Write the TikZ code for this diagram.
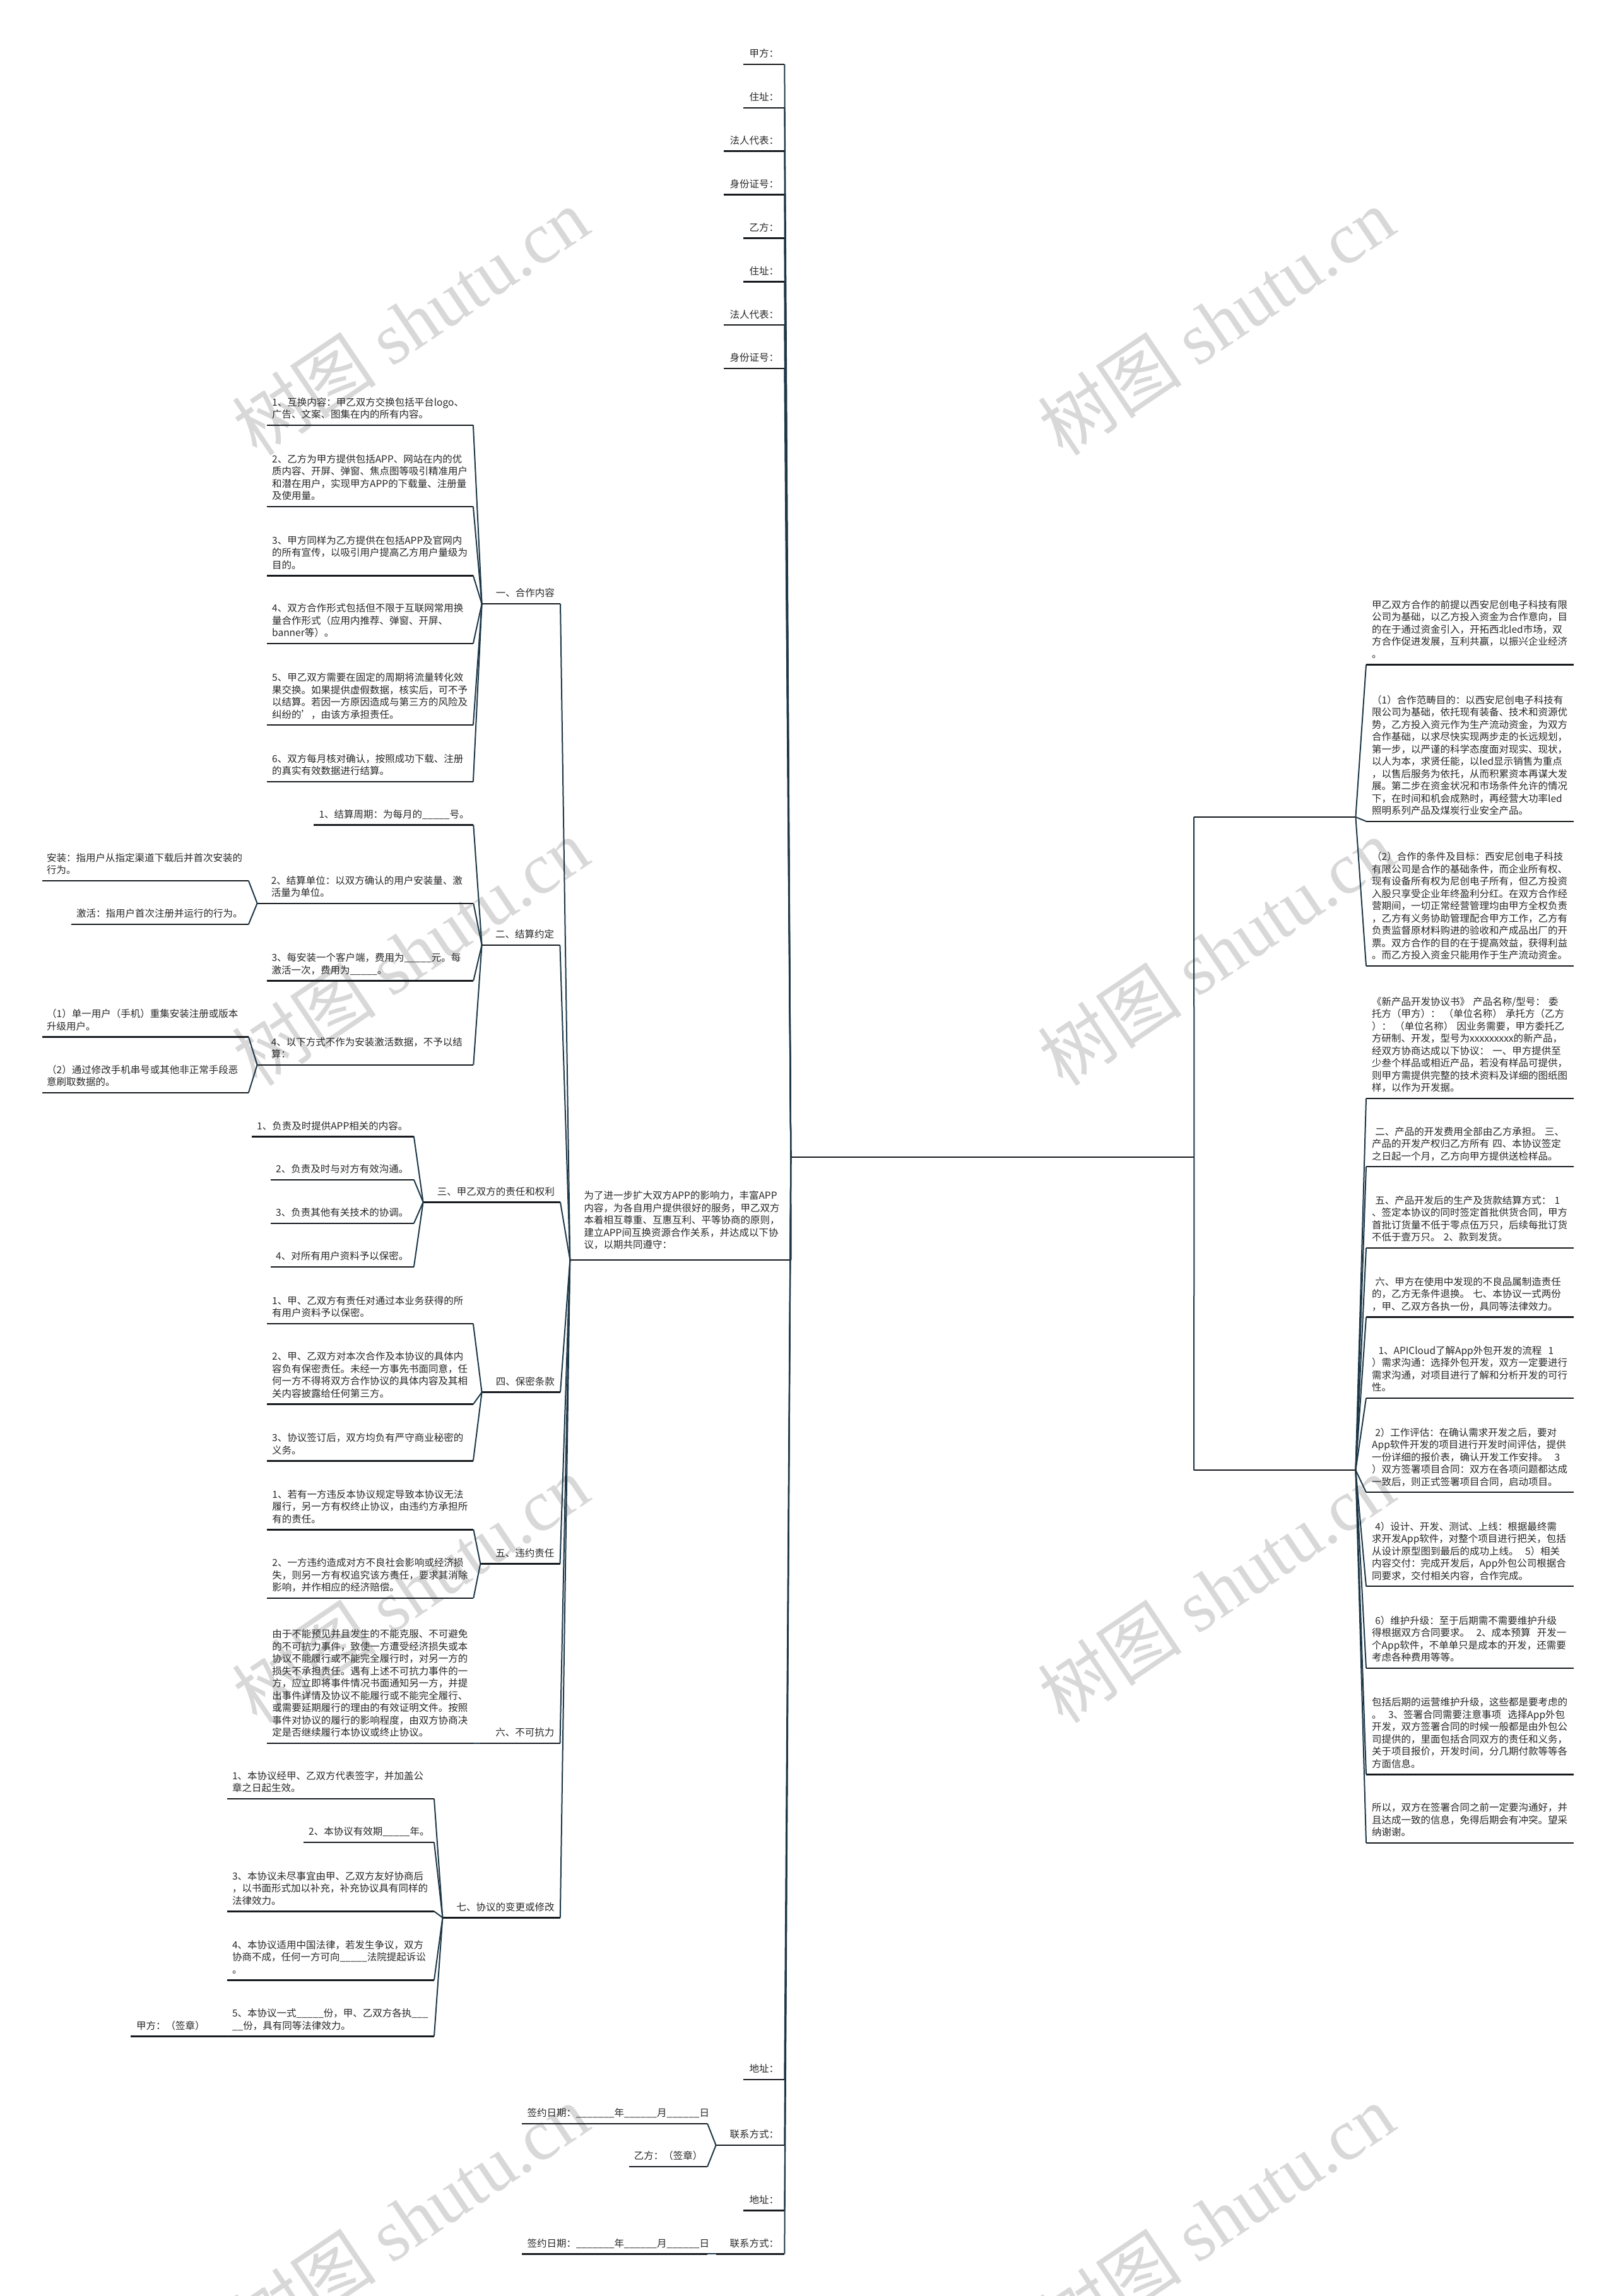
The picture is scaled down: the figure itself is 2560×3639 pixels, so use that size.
\documentclass[tikz,border=0pt]{standalone}
\usepackage{fontspec}
\setmainfont{Noto Sans CJK SC}
\newfontfamily\wmlatin{Liberation Serif}
\newcommand\fsz{\fontsize{15.5}{19.5}\selectfont}
\definecolor{lnc}{RGB}{30,56,72}
\definecolor{ulc}{RGB}{22,26,30}
\definecolor{txc}{RGB}{40,40,40}
\definecolor{wmc}{RGB}{216,216,216}
\tikzset{
 uline/.style={draw=ulc,line width=2.4pt},
 conn/.style={draw=lnc,line width=2pt},
 base/.style={font=\fsz,text=txc,anchor=south west,inner ysep=5.15pt,execute at end node={\strut},
   append after command={(\tikzlastnode.south west) edge[uline] (\tikzlastnode.south east)}},
 leaf/.style={base,align=left,inner xsep=8pt},
 lab/.style={base,align=right,inner xsep=9pt,anchor=south east},
 hub/.style={base,inner sep=0pt},
 wm/.style={font=\fontsize{115}{115}\selectfont,text=wmc,rotate=34,inner sep=0pt},
}
\begin{document}
\begin{tikzpicture}[x=1pt,y=-1pt]
\fill[white] (0,0) rectangle (2560,3639);
\useasboundingbox (0,0) rectangle (2560,3639);
% watermarks
\foreach \wx/\wy [count=\i] in {650/510,1927/510,650/1509,1927/1509,650/2519,1927/2519,650/3516,1927/3516}
  \node[wm] (wm\i) at (\wx,\wy) {树图 {\wmlatin shutu.cn}};
% root and right hubs
\node[hub,minimum width=638.7pt] (root) at (1253.3,1834) {};
\node[hub,minimum width=256pt] (h1) at (1892,1295) {};
\node[hub,minimum width=256pt] (h2) at (1892,2330) {};
% top labels
\node[lab] (t1) at (1243.3,102.0) {甲方：};
\node[lab] (t2) at (1243.3,170.9) {住址：};
\node[lab] (t3) at (1243.3,239.7) {法人代表：};
\node[lab] (t4) at (1243.3,308.6) {身份证号：};
\node[lab] (t5) at (1243.3,377.5) {乙方：};
\node[lab] (t6) at (1243.3,446.3) {住址：};
\node[lab] (t7) at (1243.3,515.2) {法人代表：};
\node[lab] (t8) at (1243.3,584.1) {身份证号：};
% bottom labels
\node[lab] (b1) at (1243.3,3296) {地址：};
\node[lab,text width=90.3pt] (b2) at (1243.3,3400) {联系方式：};
\node[lab] (b3) at (1243.3,3503.3) {地址：};
\node[lab,text width=90.3pt] (b4) at (1243.3,3572.3) {联系方式：};
\node[leaf,text width=277.4pt] (b2a) at (827.3,3365.7) {签约日期：\_\_\_\_\_\_\_年\_\_\_\_\_\_月\_\_\_\_\_\_日};
\node[leaf,text width=108pt] (b2b) at (996.7,3434) {乙方：（签章）};
\node[leaf,text width=277.4pt] (b4a) at (827.3,3572.3) {签约日期：\_\_\_\_\_\_\_年\_\_\_\_\_\_月\_\_\_\_\_\_日};
% central text
\node[leaf,inner xsep=22pt,inner ysep=12pt,text width=306pt] (wl) at (903.3,1996.7) {为了进一步扩大双方APP的影响力，丰富APP\\内容，为各自用户提供很好的服务，甲乙双方\\本着相互尊重、互惠互利、平等协商的原则，\\建立APP间互换资源合作关系，并达成以下协\\议，以期共同遵守：};
% sections
\node[lab,text width=106pt] (s1) at (888,957) {一、合作内容};
\node[lab,text width=105.4pt] (s2) at (887.4,1497.7) {二、结算约定};
\node[lab,text width=199pt] (s3) at (888,1905.3) {三、甲乙双方的责任和权利};
\node[lab,text width=106pt] (s4) at (888,2206.6) {四、保密条款};
\node[lab,text width=107.8pt] (s5) at (887.5,2478.3) {五、违约责任};
\node[lab,text width=107.8pt] (s6) at (887.5,2762.7) {六、不可抗力};
\node[lab,text width=168pt] (s7) at (887.8,3039.3) {七、协议的变更或修改};
% section 1
\node[leaf,text width=310.5pt] (s1a) at (423,673.7) {1、互换内容：甲乙双方交换包括平台logo、\\广告、文案、图集在内的所有内容。};
\node[leaf,text width=310.5pt] (s1b) at (423,802.9) {2、乙方为甲方提供包括APP、网站在内的优\\质内容、开屏、弹窗、焦点图等吸引精准用户\\和潜在用户，实现甲方APP的下载量、注册量\\及使用量。};
\node[leaf,text width=310.5pt] (s1c) at (423,912.3) {3、甲方同样为乙方提供在包括APP及官网内\\的所有宣传，以吸引用户提高乙方用户量级为\\目的。};
\node[leaf,text width=310.5pt] (s1d) at (423,1020) {4、双方合作形式包括但不限于互联网常用换\\量合作形式（应用内推荐、弹窗、开屏、\\banner等）。};
\node[leaf,text width=310.5pt] (s1e) at (423,1149.2) {5、甲乙双方需要在固定的周期将流量转化效\\果交换。如果提供虚假数据，核实后，可不予\\以结算。若因一方原因造成与第三方的风险及\\纠纷的'，由该方承担责任。};
\node[leaf,text width=310.5pt] (s1f) at (423,1238.9) {6、双方每月核对确认，按照成功下载、注册\\的真实有效数据进行结算。};
% section 2
\node[leaf,text width=236.5pt] (s2a) at (497.4,1307.3) {1、结算周期：为每月的\_\_\_\_\_号。};
\node[leaf,inner xsep=22pt,text width=298.3pt] (s2b) at (407.6,1431.7) {2、结算单位：以双方确认的用户安装量、激\\活量为单位。};
\node[leaf,inner xsep=7pt,text width=312.5pt] (s2b1) at (67,1396) {安装：指用户从指定渠道下载后并首次安装的\\行为。};
\node[leaf,text width=264.5pt] (s2b2) at (113,1465) {激活：指用户首次注册并运行的行为。};
\node[leaf,inner xsep=7pt,text width=312.6pt] (s2c) at (423.3,1554.3) {3、每安装一个客户端，费用为\_\_\_\_\_元。每\\激活一次，费用为\_\_\_\_\_。};
\node[leaf,inner xsep=22pt,text width=298.3pt] (s2d) at (407.6,1687.7) {4、以下方式不作为安装激活数据，不予以结\\算：};
\node[leaf,inner xsep=7pt,text width=312.5pt] (s2d1) at (67,1643.3) {（1）单一用户（手机）重集安装注册或版本\\升级用户。};
\node[leaf,inner xsep=7pt,text width=312.5pt] (s2d2) at (67,1731.7) {（2）通过修改手机串号或其他非正常手段恶\\意刷取数据的。};
% section 3
\node[leaf,text width=240.5pt] (s3a) at (399,1801.3) {1、负责及时提供APP相关的内容。};
\node[leaf,text width=210.5pt] (s3b) at (429,1869.7) {2、负责及时与对方有效沟通。};
\node[leaf,text width=210.5pt] (s3c) at (429,1938.9) {3、负责其他有关技术的协调。};
\node[leaf,text width=210.5pt] (s3d) at (429,2008) {4、对所有用户资料予以保密。};
% section 4
\node[leaf,text width=310.5pt] (s4a) at (423,2097.8) {1、甲、乙双方有责任对通过本业务获得的所\\有用户资料予以保密。};
\node[leaf,text width=310.5pt] (s4b) at (423,2225.6) {2、甲、乙双方对本次合作及本协议的具体内\\容负有保密责任。未经一方事先书面同意，任\\何一方不得将双方合作协议的具体内容及其相\\关内容披露给任何第三方。};
\node[leaf,text width=310.5pt] (s4c) at (423,2315.3) {3、协议签订后，双方均负有严守商业秘密的\\义务。};
% section 5
\node[leaf,text width=310.8pt] (s5a) at (423.2,2424.3) {1、若有一方违反本协议规定导致本协议无法\\履行，另一方有权终止协议，由违约方承担所\\有的责任。};
\node[leaf,text width=310.8pt] (s5b) at (423.2,2532.7) {2、一方违约造成对方不良社会影响或经济损\\失，则另一方有权追究该方责任，要求其消除\\影响，并作相应的经济赔偿。};
% section 6
\node[leaf,text width=310.8pt] (s6a) at (423.2,2762.7) {由于不能预见并且发生的不能克服、不可避免\\的不可抗力事件，致使一方遭受经济损失或本\\协议不能履行或不能完全履行时，对另一方的\\损失不承担责任。遇有上述不可抗力事件的一\\方，应立即将事件情况书面通知另一方，并提\\出事件详情及协议不能履行或不能完全履行、\\或需要延期履行的理由的有效证明文件。按照\\事件对协议的履行的影响程度，由双方协商决\\定是否继续履行本协议或终止协议。};
% section 7
\node[leaf,text width=311.8pt] (s7a) at (359.8,2851) {1、本协议经甲、乙双方代表签字，并加盖公\\章之日起生效。};
\node[leaf,text width=190.6pt] (s7b) at (481,2920) {2、本协议有效期\_\_\_\_\_年。};
\node[leaf,text width=311.8pt] (s7c) at (359.8,3029.3) {3、本协议未尽事宜由甲、乙双方友好协商后\\，以书面形式加以补充，补充协议具有同样的\\法律效力。};
\node[leaf,text width=311.8pt] (s7d) at (359.8,3138.3) {4、本协议适用中国法律，若发生争议，双方\\协商不成，任何一方可向\_\_\_\_\_法院提起诉讼\\。};
\node[leaf,text width=311.8pt] (s7e) at (359.8,3227.3) {5、本协议一式\_\_\_\_\_份，甲、乙双方各执\_\_\_\\\_\_份，具有同等法律效力。};
\node[leaf,inner xsep=9pt,text width=134.9pt] (s7e1) at (206.9,3227.3) {甲方：（签章）};
% right column
\node[leaf,inner xsep=9pt,text width=310.3pt] (r1) at (2165,1053.4) {甲乙双方合作的前提以西安尼创电子科技有限\\公司为基础，以乙方投入资金为合作意向，目\\的在于通过资金引入，开拓西北led市场，双\\方合作促进发展，互利共赢，以振兴企业经济\\。};
\node[leaf,inner xsep=9pt,text width=310.3pt] (r2) at (2165,1301.7) {（1）合作范畴目的：以西安尼创电子科技有\\限公司为基础，依托现有装备、技术和资源优\\势，乙方投入资元作为生产流动资金，为双方\\合作基础，以求尽快实现两步走的长远规划，\\第一步，以严谨的科学态度面对现实、现状，\\以人为本，求贤任能，以led显示销售为重点\\，以售后服务为依托，从而积累资本再谋大发\\展。第二步在资金状况和市场条件允许的情况\\下，在时间和机会成熟时，再经营大功率led\\照明系列产品及煤炭行业安全产品。};
\node[leaf,inner xsep=9pt,text width=310.3pt] (r3) at (2165,1531) {（2）合作的条件及目标：西安尼创电子科技\\有限公司是合作的基础条件，而企业所有权、\\现有设备所有权为尼创电子所有，但乙方投资\\入股只享受企业年终盈利分红。在双方合作经\\营期间，一切正常经营管理均由甲方全权负责\\，乙方有义务协助管理配合甲方工作，乙方有\\负责监督原材料购进的验收和产成品出厂的开\\票。双方合作的目的在于提高效益，获得利益\\。而乙方投入资金只能用作于生产流动资金。};
\node[leaf,inner xsep=9pt,text width=310.3pt] (r4) at (2165,1740.9) {《新产品开发协议书》~产品名称/型号：~委\\托方（甲方）：~（单位名称）~承托方（乙方\\）：~（单位名称）~因业务需要，甲方委托乙\\方研制、开发，型号为xxxxxxxxx的新产品，\\经双方协商达成以下协议：~一、甲方提供至\\少叁个样品或相近产品，若没有样品可提供，\\则甲方需提供完整的技术资料及详细的图纸图\\样，以作为开发据。};
\node[leaf,inner xsep=9pt,text width=310.3pt] (r5) at (2165,1849.2) {~二、产品的开发费用全部由乙方承担。~三、\\产品的开发产权归乙方所有~四、本协议签定\\之日起一个月，乙方向甲方提供送检样品。};
\node[leaf,inner xsep=9pt,text width=310.3pt] (r6) at (2165,1978.1) {~五、产品开发后的生产及货款结算方式：~1\\、签定本协议的同时签定首批供货合同，甲方\\首批订货量不低于零点伍万只，后续每批订货\\不低于壹万只。~2、款到发货。};
\node[leaf,inner xsep=9pt,text width=310.3pt] (r7) at (2165,2087.6) {~六、甲方在使用中发现的不良品属制造责任\\的，乙方无条件退换。~七、本协议一式两份\\，甲、乙双方各执一份，具同等法律效力。};
\node[leaf,inner xsep=9pt,text width=310.3pt] (r8) at (2165,2215.7) {~~1、APICloud了解App外包开发的流程~~1\\）需求沟通：选择外包开发，双方一定要进行\\需求沟通，对项目进行了解和分析开发的可行\\性。};
\node[leaf,inner xsep=9pt,text width=310.3pt] (r9) at (2165,2365.2) {~2）工作评估：在确认需求开发之后，要对\\App软件开发的项目进行开发时间评估，提供\\一份详细的报价表，确认开发工作安排。~~3\\）双方签署项目合同：双方在各项问题都达成\\一致后，则正式签署项目合同，启动项目。};
\node[leaf,inner xsep=9pt,text width=310.3pt] (r10) at (2165,2514.2) {~4）设计、开发、测试、上线：根据最终需\\求开发App软件，对整个项目进行把关，包括\\从设计原型图到最后的成功上线。~~5）相关\\内容交付：完成开发后，App外包公司根据合\\同要求，交付相关内容，合作完成。};
\node[leaf,inner xsep=9pt,text width=310.3pt] (r11) at (2165,2643.9) {~6）维护升级：至于后期需不需要维护升级\\得根据双方合同要求。~~2、成本预算~~开发一\\个App软件，不单单只是成本的开发，还需要\\考虑各种费用等等。};
\node[leaf,inner xsep=9pt,text width=310.3pt] (r12) at (2165,2812.3) {包括后期的运营维护升级，这些都是要考虑的\\。~~3、签署合同需要注意事项~~选择App外包\\开发，双方签署合同的时候一般都是由外包公\\司提供的，里面包括合同双方的责任和义务，\\关于项目报价，开发时间，分几期付款等等各\\方面信息。};
\node[leaf,inner xsep=9pt,text width=310.3pt] (r13) at (2165,2920.7) {所以，双方在签署合同之前一定要沟通好，并\\且达成一致的信息，免得后期会有冲突。望采\\纳谢谢。};
% connectors
\foreach \n in {t1,t2,t3,t4,t5,t6,t7,t8,b1,b2,b3,b4,wl}
  \draw[conn] (\n.south east) -- (root.south west);
\foreach \n in {h1,h2}
  \draw[conn] (root.south east) -- (\n.south west);
\foreach \n in {r1,r2,r3}
  \draw[conn] (h1.south east) -- (\n.south west);
\foreach \n in {r4,r5,r6,r7,r8,r9,r10,r11,r12,r13}
  \draw[conn] (h2.south east) -- (\n.south west);
\foreach \n in {s1,s2,s3,s4,s5,s6,s7}
  \draw[conn] (\n.south east) -- (wl.south west);
\foreach \n in {s1a,s1b,s1c,s1d,s1e,s1f}
  \draw[conn] (\n.south east) -- (s1.south west);
\foreach \n in {s2a,s2b,s2c,s2d}
  \draw[conn] (\n.south east) -- (s2.south west);
\foreach \n in {s2b1,s2b2}
  \draw[conn] (\n.south east) -- (s2b.south west);
\foreach \n in {s2d1,s2d2}
  \draw[conn] (\n.south east) -- (s2d.south west);
\foreach \n in {s3a,s3b,s3c,s3d}
  \draw[conn] (\n.south east) -- (s3.south west);
\foreach \n in {s4a,s4b,s4c}
  \draw[conn] (\n.south east) -- (s4.south west);
\foreach \n in {s5a,s5b}
  \draw[conn] (\n.south east) -- (s5.south west);
\draw[conn] (s6a.south east) -- (s6.south west);
\foreach \n in {s7a,s7b,s7c,s7d,s7e}
  \draw[conn] (\n.south east) -- (s7.south west);
\draw[conn] (s7e1.south east) -- (s7e.south west);
\foreach \n in {b2a,b2b}
  \draw[conn] (\n.south east) -- (b2.south west);
\draw[conn] (b4a.south east) -- (b4.south west);
\end{tikzpicture}
\end{document}
